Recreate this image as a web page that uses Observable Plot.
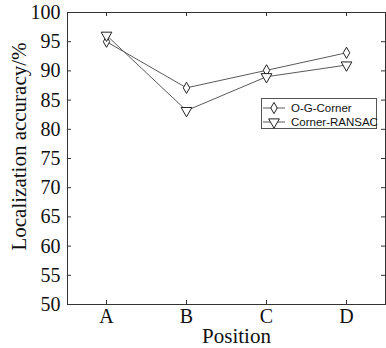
<!DOCTYPE html>
<html><head><meta charset="utf-8">
<script src="https://cdn.jsdelivr.net/npm/d3@7"></script>
<script src="https://cdn.jsdelivr.net/npm/@observablehq/plot@0.6"></script>
<style>
body{margin:0;background:#fff}
#chart{position:relative;width:386px;height:348px}
#chart svg text{font-family:"Liberation Serif","Times New Roman",serif}
.legend{position:absolute;left:261px;top:98px;width:116px;height:31px;border:1px solid #555;background:#fff;font:11.5px "Liberation Sans",Arial,sans-serif;color:#111;box-sizing:border-box}
.legend .row{position:absolute;left:0;height:14px;display:flex;align-items:center;white-space:nowrap}
.legend svg{display:block;margin-right:3px}
</style></head><body><div id="chart"></div>
<script>
const positions = ["A", "B", "C", "D"];
const ogCorner = [95.0, 87.1, 90.1, 93.1];
const cornerRansac = [96.1, 83.2, 89.0, 91.0];
const seriesNames = ["O-G-Corner", "Corner-RANSAC"];
const yTicks = [50, 55, 60, 65, 70, 75, 80, 85, 90, 95, 100];
const xLabel = "Position";
const yLabel = "Localization accuracy/%";

const rows = [];
positions.forEach((p, i) => {
  rows.push({pos: p, value: ogCorner[i], series: seriesNames[0]});
  rows.push({pos: p, value: cornerRansac[i], series: seriesNames[1]});
});
const og = rows.filter(d => d.series === seriesNames[0]);
const cr = rows.filter(d => d.series === seriesNames[1]);

const W = 386, H = 348, mL = 67, mR = 1, mT = 12, mB = 44;
const fw = W - mL - mR, fh = H - mT - mB, tk = 4;
const lineColor = "#5a5a5a", markColor = "#222";
const serif = "'Liberation Serif','Times New Roman',serif";

const chart = Plot.plot({
  width: W, height: H,
  marginLeft: mL, marginRight: mR, marginTop: mT, marginBottom: mB,
  style: {fontSize: "20px", color: "#111", background: "#fff"},
  x: {type: "point", domain: positions, padding: 0.47},
  y: {domain: [50, 100]},
  marks: [
    Plot.tickY(yTicks, {y: d => d, insetRight: fw - tk, stroke: "#333"}),
    Plot.tickY(yTicks, {y: d => d, insetLeft: fw - tk, stroke: "#333"}),
    Plot.tickX(positions, {x: d => d, insetTop: fh - tk, stroke: "#333"}),
    Plot.tickX(positions, {x: d => d, insetBottom: fh - tk, stroke: "#333"}),
    Plot.frame({stroke: "#333"}),
    Plot.line(rows, {x: "pos", y: "value", z: "series", stroke: lineColor, strokeWidth: 1}),
    Plot.dot(og, {x: "pos", y: "value", symbol: "diamond", r: 3.4, fill: "white", stroke: markColor, strokeWidth: 1}),
    Plot.dot(cr, {x: "pos", y: "value", symbol: "triangle", rotate: 180, r: 4.0, fill: "white", stroke: markColor, strokeWidth: 1}),
    Plot.axisY({ticks: yTicks, tickSize: 0, tickPadding: 7, label: null, fontSize: 20, fontFamily: serif}),
    Plot.axisX({tickSize: 0, tickPadding: 4, label: null, fontSize: 20, fontFamily: serif}),
    Plot.text([yLabel], {frameAnchor: "left", textAnchor: "middle", lineAnchor: "middle", rotate: -90, dx: -48, dy: -12, fontSize: 21, fontFamily: serif, fill: "#111"}),
    Plot.text([xLabel], {frameAnchor: "bottom", textAnchor: "middle", lineAnchor: "middle", dx: 10, dy: 32, fontSize: 21, fontFamily: serif, fill: "#111"})
  ]
});
const el = document.getElementById("chart");
el.appendChild(chart);

// legend
const legend = document.createElement("div");
legend.className = "legend";
const symbols = [d3.symbol(d3.symbolDiamond, Math.PI * 3.4 * 3.4)(), d3.symbol(d3.symbolTriangle, Math.PI * 4 * 4)()];
const rots = [0, 180];
seriesNames.forEach((name, i) => {
  const row = document.createElement("div");
  row.className = "row";
  row.style.top = (2 + i * 14) + "px";
  row.innerHTML = `<svg width="26" height="14"><line x1="1" x2="23" y1="7" y2="7" stroke="${lineColor}"/><path d="${symbols[i]}" transform="translate(12,7) rotate(${rots[i]})" fill="white" stroke="${markColor}"/></svg><span>${name}</span>`;
  legend.appendChild(row);
});
el.appendChild(legend);
</script></body></html>
